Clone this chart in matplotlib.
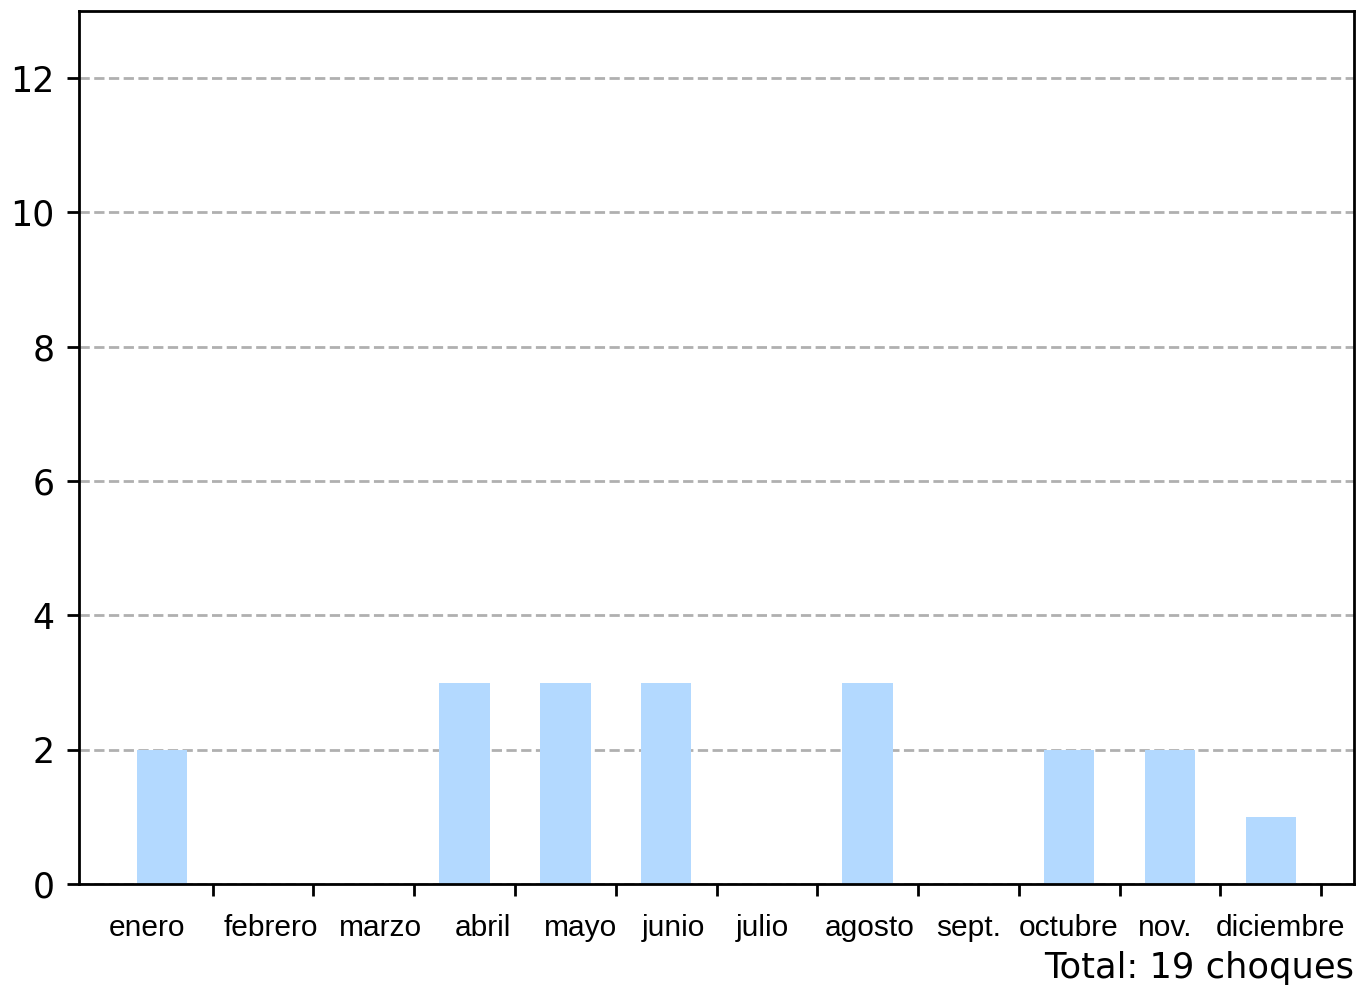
import matplotlib
matplotlib.use("Agg")
from matplotlib import pyplot as plt

meses = ['enero', 'febrero', 'marzo', 'abril', 'mayo', 'junio', 'julio',
         'agosto', 'sept.', 'octubre', 'nov.', 'diciembre']
choques = [2, 0, 0, 3, 3, 3, 0, 3, 0, 2, 2, 1]
# small nudges of the month labels, as in the original layout
desplaz = [-0.15, 0.08, 0.17, 0.18, 0.15, 0.07, -0.04, 0.02, 0.0, -0.01, -0.05, 0.1]

fig = plt.figure(figsize=(1358 / 250, 986 / 250), dpi=250)
ax = fig.add_axes([79 / 1358, 1 - 884 / 986, (1354 - 79) / 1358, (884 - 11) / 986])

x = list(range(len(meses)))
ax.bar(x, choques, width=0.5, color='#b3d9ff')
ax.set_axisbelow(True)
ax.yaxis.grid(True, linestyle='--', color='#b0b0b0', linewidth=0.8)

ax.set_ylim(0, 13)
ax.set_yticks(range(0, 13, 2))
ax.set_xticks([i + 0.5 for i in x])
ax.set_xticklabels([])
ax.tick_params(labelsize=10)

for i, (m, d) in enumerate(zip(meses, desplaz)):
    ax.text(i + d, -0.0505, m, transform=ax.get_xaxis_transform(),
            ha='center', va='center', fontsize=8.6, family='Liberation Sans')

total = sum(choques)
ax.text(1.0, -0.1077, 'Total: %d choques' % total, transform=ax.transAxes,
        ha='right', va='baseline', fontsize=10.15)

fig.savefig('out.png', dpi=250)
